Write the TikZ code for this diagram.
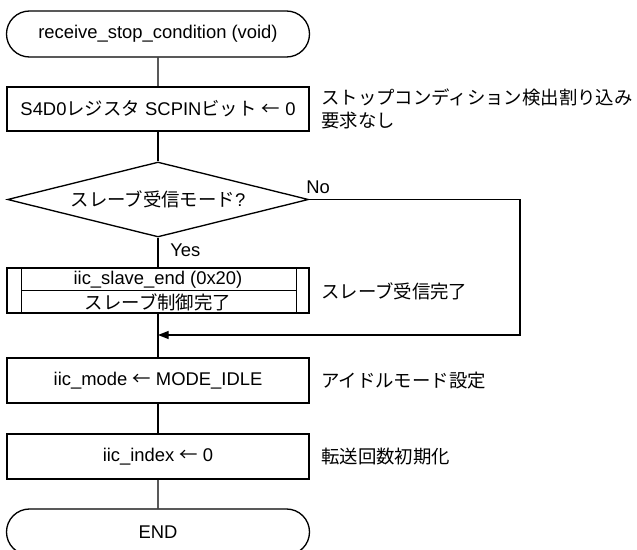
\documentclass[tikz,border=0pt]{standalone}
\usepackage{fontspec}
\setmainfont{Liberation Sans}
\newfontfamily\cjk{Noto Sans CJK JP}
\newcommand{\J}[1]{{\cjk #1}}
\usetikzlibrary{shapes.misc,shapes.geometric,arrows.meta}
\begin{document}
\begin{tikzpicture}[x=0.75pt,y=-0.75pt,
  every node/.style={font=\fontsize{13.8pt}{17.25pt}\selectfont, inner sep=0pt},
  line/.style={line width=1pt, draw=black},
  term/.style={line, rounded rectangle, minimum width=227.25pt, minimum height=34.5pt},
  proc/.style={line, rectangle, minimum width=226.5pt, minimum height=33.75pt},
  dec/.style={line, diamond, aspect=4, minimum width=225.75pt, minimum height=56.25pt},
  side/.style={anchor=west, align=left},
  lbl/.style={anchor=west}
]
\useasboundingbox (0,0) rectangle (637,550);

\node[term] (start) at (158,34) {receive\_stop\_condition (void)};
\node[proc, minimum height=33pt] (scpin) at (158,109) {S4D0\J{レジスタ} SCPIN\J{ビット} \J{←} 0};
\node[dec] (dec) at (158,199.5) {\J{スレーブ受信モード}?};
\node[proc] (sub) at (158,290.5) {};
\node (subA) at (158,279.5) {iic\_slave\_end (0x20)};
\node (subB) at (158,302) {\J{スレーブ制御完了}};
\node[proc] (mode) at (158,380.5) {iic\_mode \J{←} MODE\_IDLE};
\node[proc] (idx) at (158,456.5) {iic\_index \J{←} 0};
\node[term] (end) at (158,532) {END};

% subroutine inner lines
\draw[line] ([xshift=15*0.75pt]sub.north west) -- ([xshift=15*0.75pt]sub.south west);
\draw[line] ([xshift=-13*0.75pt]sub.north east) -- ([xshift=-13*0.75pt]sub.south east);
\draw[line] ([xshift=15*0.75pt]sub.west) -- ([xshift=-13*0.75pt]sub.east);

% side comments
\node[side] (c1) at (321,108.5) {\J{ストップコンディション検出割り込み}\\\J{要求なし}};
\node[side] (c2) at (321,291) {\J{スレーブ受信完了}};
\node[side] (c3) at (321,381) {\J{アイドルモード設定}};
\node[side] (c4) at (321,457) {\J{転送回数初期化}};

% labels
\node[lbl] (no) at (306,187) {No};
\node[lbl] (yes) at (170,250) {Yes};

% connectors
\coordinate (rx) at (520,335);
\coordinate (join) at (158,335);
\draw[line] (start) -- (scpin);
\draw[line] (scpin) -- (dec);
\draw[line] (dec) -- (sub);
\draw[line] (sub) -- (mode);
\draw[line] (mode) -- (idx);
\draw[line] (idx) -- (end);
\draw[line, -{Triangle[length=8pt,width=6pt]}] (dec.east) -| (rx) -- (join);
\end{tikzpicture}
\end{document}
